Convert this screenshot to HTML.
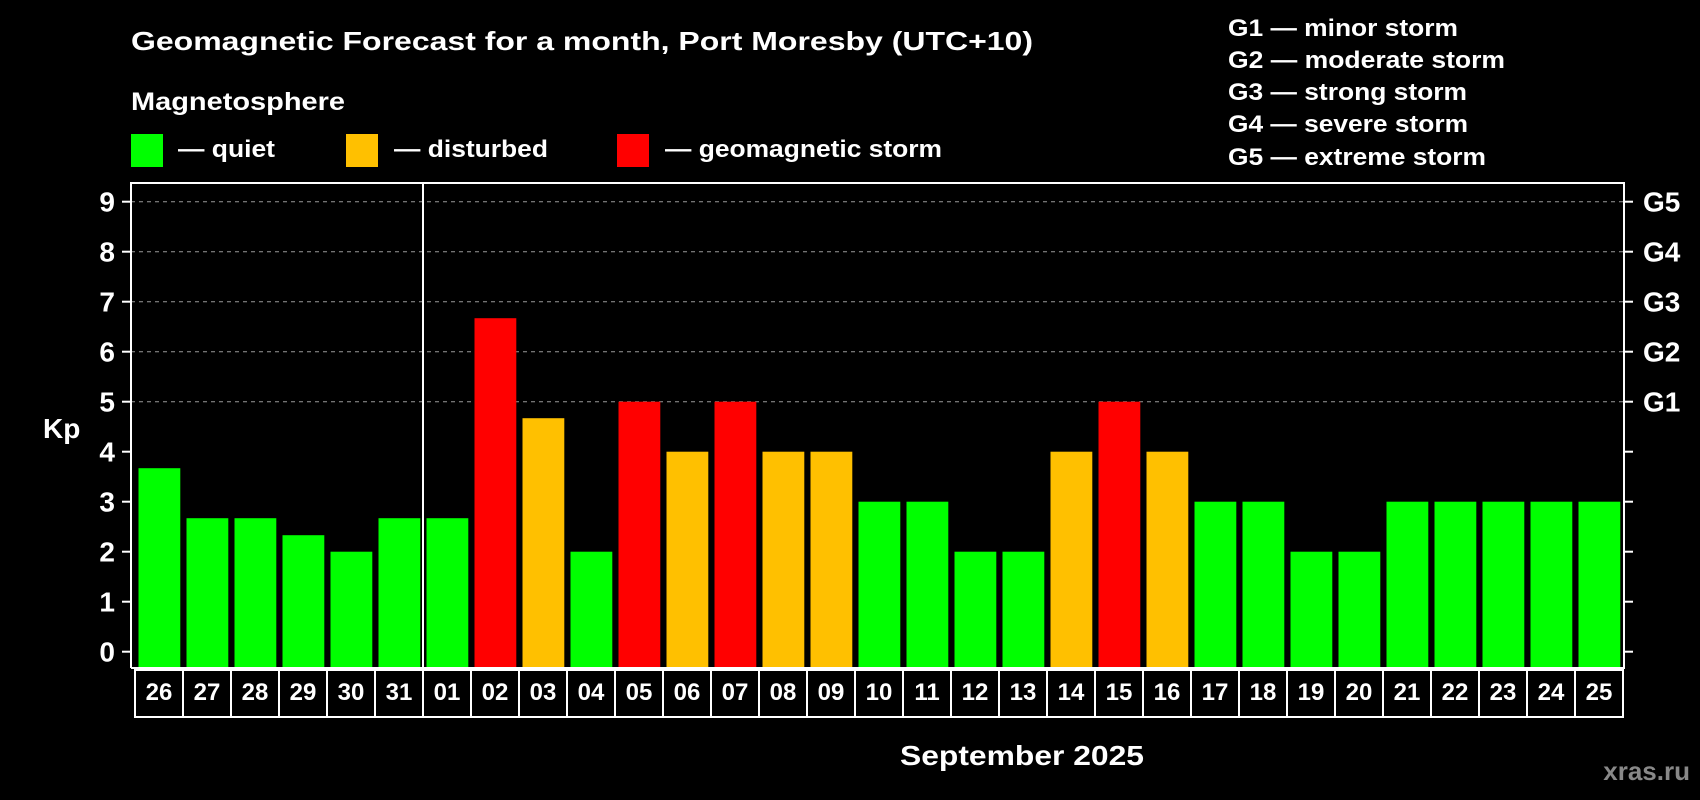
<!DOCTYPE html>
<html><head><meta charset="utf-8"><style>
html,body{margin:0;padding:0;background:#000;}
svg{display:block;font-family:"Liberation Sans",Arial,sans-serif;font-weight:bold;}
</style></head><body>
<svg id="chart" width="1700" height="800" viewBox="0 0 1700 800" xmlns="http://www.w3.org/2000/svg">
<rect width="1700" height="800" fill="#000"/>
<text x="131" y="50" font-size="26" fill="#fff" textLength="902" lengthAdjust="spacingAndGlyphs">Geomagnetic Forecast for a month, Port Moresby (UTC+10)</text>
<text x="131" y="110" font-size="25" fill="#fff" textLength="214" lengthAdjust="spacingAndGlyphs">Magnetosphere</text>
<g>
<rect x="131" y="134" width="32" height="33" fill="#00ff00"/>
<text x="178" y="157" font-size="24" fill="#fff" textLength="97" lengthAdjust="spacingAndGlyphs">— quiet</text></g>
<g>
<rect x="346" y="134" width="32" height="33" fill="#ffc000"/>
<text x="394" y="157" font-size="24" fill="#fff" textLength="154" lengthAdjust="spacingAndGlyphs">— disturbed</text></g>
<g>
<rect x="617" y="134" width="32" height="33" fill="#ff0000"/>
<text x="665" y="157" font-size="24" fill="#fff" textLength="277" lengthAdjust="spacingAndGlyphs">— geomagnetic storm</text></g>
<g font-size="24" fill="#fff">
<text x="1228" y="36" textLength="230" lengthAdjust="spacingAndGlyphs">G1 — minor storm</text>
<text x="1228" y="68" textLength="277" lengthAdjust="spacingAndGlyphs">G2 — moderate storm</text>
<text x="1228" y="100" textLength="239" lengthAdjust="spacingAndGlyphs">G3 — strong storm</text>
<text x="1228" y="132" textLength="240" lengthAdjust="spacingAndGlyphs">G4 — severe storm</text>
<text x="1228" y="165" textLength="258" lengthAdjust="spacingAndGlyphs">G5 — extreme storm</text>
</g>
<text x="43" y="438" font-size="28" fill="#fff">Kp</text>
<text x="1022" y="765" font-size="28" fill="#fff" text-anchor="middle" textLength="244" lengthAdjust="spacingAndGlyphs">September 2025</text>
<text x="1690" y="780" font-size="26" fill="#888" text-anchor="end">xras.ru</text>
<g id="grid"></g><g id="bars"></g><g id="axes"></g>
</svg>
<script>
const days = ["26","27","28","29","30","31","01","02","03","04","05","06","07","08","09","10","11","12","13","14","15","16","17","18","19","20","21","22","23","24","25"];
const kpValues = [3.67,2.67,2.67,2.33,2,2.67,2.67,6.67,4.67,2,5,4,5,4,4,3,3,2,2,4,5,4,3,3,2,2,3,3,3,3,3];
const yTicks = [0,1,2,3,4,5,6,7,8,9];
const gLevels = ["G1","G2","G3","G4","G5"];
const gValues = [5,6,7,8,9];

const NS="http://www.w3.org/2000/svg";
const plotL=131, plotR=1624, plotT=183, plotB=668, cellL=135, slotW=48, cellB=717;
const y = v => 651.7 - v*50;
const xCell = i => cellL + i*slotW;
function mk(tag, attrs, parent, txt){const e=document.createElementNS(NS,tag);for(const k in attrs)e.setAttribute(k,attrs[k]);if(txt!==undefined)e.textContent=txt;parent.appendChild(e);return e;}
const grid=document.getElementById('grid'), bars=document.getElementById('bars'), axes=document.getElementById('axes');

gValues.forEach((v,i)=>{
  const l=mk('line',{x1:plotL,x2:plotR,y1:y(v),y2:y(v),stroke:'#999','stroke-width':1,'stroke-dasharray':'4,4'},grid);
  
  
  const t=mk('text',{x:1643,y:y(v)+10,'font-size':28,fill:'#fff'},axes,gLevels[i]);
  
  
});
kpValues.forEach((v,i)=>{
  const c = v>=5?'#ff0000':(v>=4?'#ffc000':'#00ff00');
  const r=mk('rect',{x:xCell(i)+3.5,y:y(v),width:41.8,height:plotB-y(v),fill:c},bars);
  
  
});
yTicks.forEach(v=>{
  const tk=mk('line',{x1:122,x2:131,y1:y(v),y2:y(v),stroke:'#fff','stroke-width':2},axes);
  
  
  const tr=mk('line',{x1:1624,x2:1633,y1:y(v),y2:y(v),stroke:'#fff','stroke-width':2},axes);
  
  
  const t=mk('text',{x:115,y:y(v)+10,'font-size':28,fill:'#fff','text-anchor':'end'},axes,String(v));
  
  
});
const frame=mk('path',{d:`M${plotL} ${plotB} V${plotT} H${plotR} V${plotB} H${plotL}`,fill:'none',stroke:'#fff','stroke-width':2},axes);


days.forEach((d,i)=>{
  const r=mk('rect',{x:xCell(i),y:plotB+2,width:slotW,height:cellB-plotB-2,fill:'none',stroke:'#fff','stroke-width':2},axes);
  
  
  const t=mk('text',{x:xCell(i)+slotW/2,y:700,'font-size':24,fill:'#fff','text-anchor':'middle'},axes,d);
  
  
});
const sepIdx = days.indexOf("01");
const sep=mk('line',{x1:xCell(sepIdx),x2:xCell(sepIdx),y1:plotT,y2:cellB,stroke:'#fff','stroke-width':2},axes);


</script>
</body></html>
